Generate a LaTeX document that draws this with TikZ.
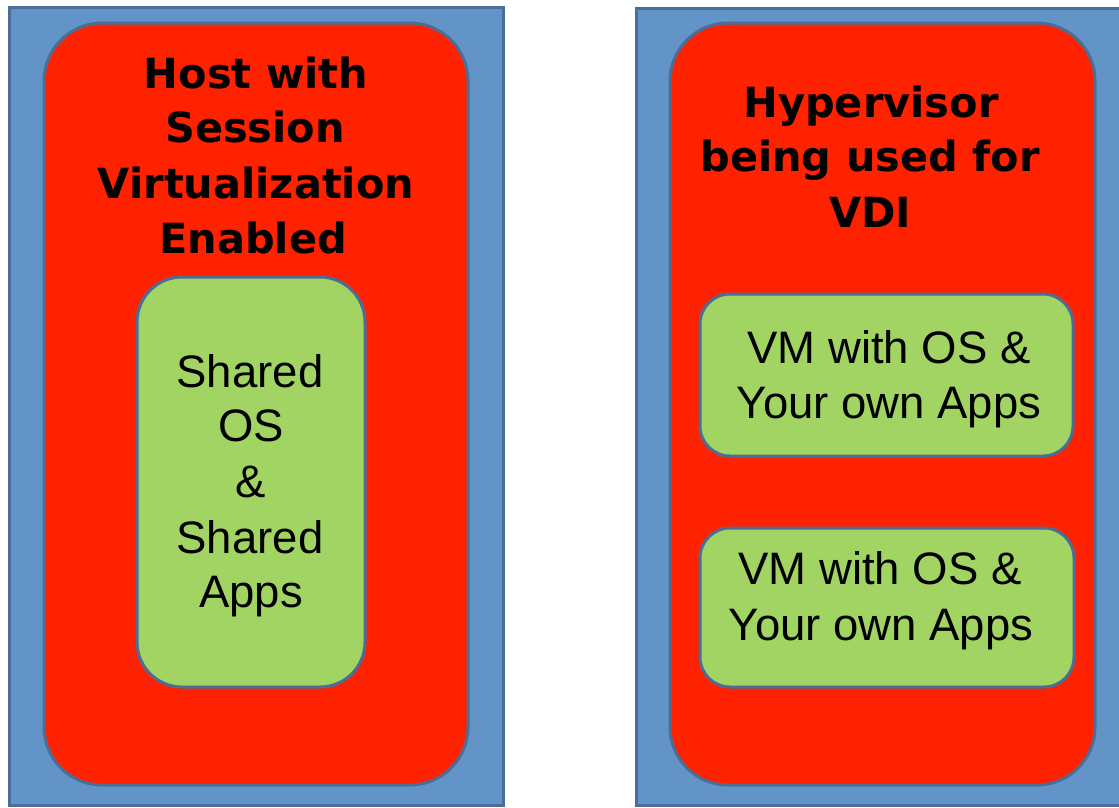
\documentclass[tikz,border=0pt]{standalone}
\usepackage{fontspec}
\setmainfont{Liberation Sans}
\newfontfamily\titlefont{DejaVu Sans}
\begin{document}
\begin{tikzpicture}[x=1pt,y=-1pt,
  outerbox/.style={fill=boxblue,draw=edgeblue,line width=3pt},
  hostbox/.style={fill=hostred,draw=edgeblue,line width=3pt,rounded corners=58pt},
  vmbox/.style={fill=vmgreen,draw=edgeblue,line width=3pt},
  titletext/.style={anchor=base,inner sep=0pt,font=\titlefont\fontsize{41.5}{50}\selectfont\bfseries},
  bodytext/.style={anchor=base,inner sep=0pt,font=\fontsize{45.5}{52}\selectfont}]
\definecolor{boxblue}{RGB}{98,148,200}
\definecolor{edgeblue}{RGB}{74,110,150}
\definecolor{hostred}{RGB}{255,34,0}
\definecolor{vmgreen}{RGB}{161,212,98}
\useasboundingbox (0,0) rectangle (1119,807);
\fill[white] (0,0) rectangle (1119,807);
% outer blue panels
\draw[outerbox] (9,7) rectangle (503,805);
\draw[outerbox] (636,8) rectangle (1125,805);
% red hosts
\draw[hostbox] (44,23) rectangle (468,785);
\draw[hostbox] (670,23) rectangle (1095,785);
% green boxes
\draw[vmbox,rounded corners=45pt] (137,277) rectangle (365,687);
\draw[vmbox,rounded corners=30pt] (700,294) rectangle (1073,456);
\draw[vmbox,rounded corners=30pt] (700,528) rectangle (1074,687);
% left title
\node[titletext] (h1) at (256,88) {Host with};
\node[titletext] (h2) at (255,142) {Session};
\node[titletext] (h3) at (256,198) {Virtualization};
\node[titletext] (h4) at (253,253) {Enabled};
% right title
\node[titletext] (r1) at (871,117) {Hypervisor};
\node[titletext] (r2) at (870,171) {being used for};
\node[titletext] (r3) at (870,227) {VDI};
% left green text
\node[bodytext] (s1) at (250,387) {Shared};
\node[bodytext] (s2) at (251,441) {OS};
\node[bodytext] (s3) at (251,497) {\&};
\node[bodytext] (s4) at (250,553) {Shared};
\node[bodytext] (s5) at (251,607) {Apps};
% right green text
\node[bodytext] (v1) at (889,363) {VM with OS \&};
\node[bodytext] (v2) at (889,418) {Your own Apps};
\node[bodytext] (w1) at (880,584) {VM with OS \&};
\node[bodytext] (w2) at (881,640) {Your own Apps};
\end{tikzpicture}
\end{document}
